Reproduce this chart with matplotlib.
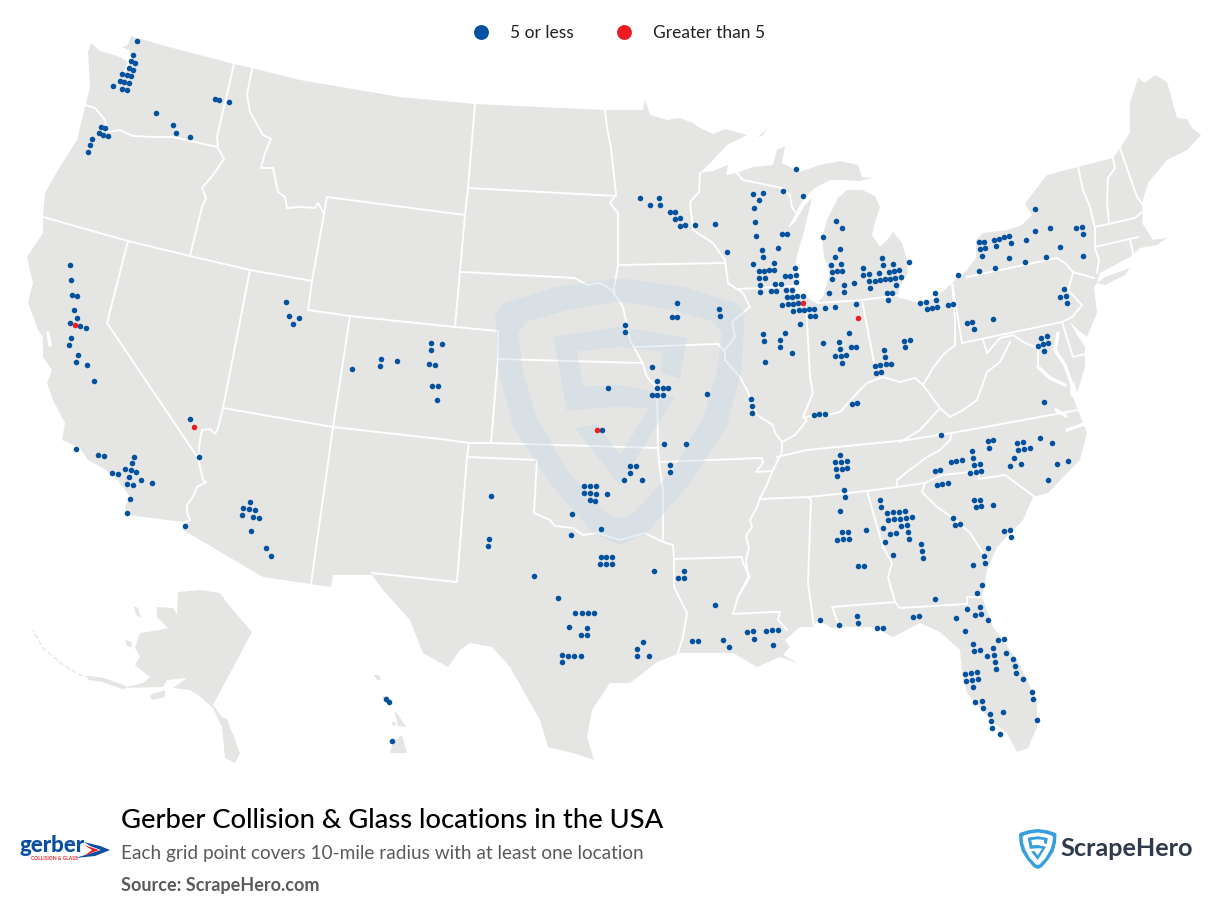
import matplotlib
matplotlib.use('Agg')
import matplotlib.pyplot as plt
import numpy as np
from matplotlib.patches import Polygon, PathPatch
from matplotlib.path import Path

title = 'Gerber Collision & Glass locations in the USA'
subtitle = 'Each grid point covers 10-mile radius with at least one location'
source = 'Source: ScrapeHero.com'
legend_labels = ['5 or less', 'Greater than 5']

west_pts = [(137,41),(133,55),(131,61),(135,63),(129,68),(133,70),(122,74),(127,75),(131,76),(120,81),(124,82),(129,83),
            (113,86),(122,89),(127,90),(215,99),(219,100),(229,102),(156,113),(173,125),(176,133),(190,137),(101,127),
            (105,128),(99,133),(103,135),(108,136),(92,139),(90,145),(88,152),(70,265),(71,280),(72,295),(77,296),
            (74,310),(77,318),(286,302),(289,316),(299,318),(293,324),(70,323),(80,326),(86,328),(71,338),(69,345),
            (78,355),(76,362),(87,365),(94,381),(190,419),(199,457),(76,449),(98,455),(104,456),(134,457),(132,463),
            (112,473),(118,474),(125,469),(131,470),(136,472),(129,477),(141,480),(127,484),(133,485),(152,483),
            (130,499),(127,513),(185,526),(250,502),(243,508),(249,509),(255,510),(242,515),(253,517),(259,518),
            (251,531),(266,548),(271,556),(352,369),(381,359),(380,366),(397,361),(431,343),(442,344),(431,350),
            (429,364),(435,365),(432,386),(438,386),(437,400),(386,699),(389,702),(392,741)]
plains_pts = [(677,303),(672,317),(677,317),(719,309),(720,316),(625,325),(625,332),(652,367),(657,381),(657,388),
              (663,388),(668,388),(652,395),(657,395),(663,395),(608,388),(707,394),(602,430),(664,444),(686,444),
              (630,466),(636,466),(630,473),(624,480),(642,480),(670,465),(670,472),(584,486),(590,486),(596,486),
              (584,493),(590,493),(596,494),(590,500),(595,501),(607,494),(572,514),(601,529),(571,535),(491,496),
              (489,539),(488,546),(601,557),(606,557),(612,557),(600,564),(606,564),(612,564),(654,571),(684,571),
              (678,578),(684,578),(534,576),(558,598),(575,613),(582,613),(588,613),(594,613),(569,627),(587,628),
              (581,635),(587,635),(562,655),(568,656),(574,656),(581,656),(562,662),(643,642),(637,649),(637,656),
              (649,656),(715,605),(692,641),(698,641),(723,640),(729,647),(747,632),(753,631),(754,639),(766,631),
              (772,630),(778,630),(773,645),(751,399),(752,406),(752,413)]
midwest_pts = [(796,169),(640,198),(659,198),(650,205),(660,205),(670,212),(675,212),(675,219),(680,218),(680,226),
               (685,225),(695,225),(715,224),(727,252),(753,194),(763,193),(783,191),(803,196),(759,200),(754,208),
               (755,222),(756,236),(782,234),(787,234),(762,250),(778,248),(763,257),(753,264),(774,263),(759,271),
               (764,271),(769,270),(774,270),(795,268),(759,278),(765,278),(785,276),(790,276),(796,275),(796,282),
               (760,285),(775,284),(781,284),(760,292),(771,291),(776,291),(786,290),(792,290),(787,297),(792,297),
               (797,296),(803,296),(782,305),(788,304),(793,304),(798,303),(793,311),(799,310),(804,310),(809,309),
               (814,309),(810,316),(815,316),(800,324),(825,308),(835,307),(856,304),(763,334),(764,341),(785,333),
               (780,340),(780,347),(792,353),(765,362),(849,333),(823,343),(839,342),(840,349),(851,347),(856,347),
               (835,356),(841,356),(846,355),(842,363),(884,350),(885,357),(886,364),(891,364),(875,366),(880,365),
               (876,373),(881,372),(904,341),(910,340),(905,347),(814,415),(819,414),(825,414),(852,404),(857,403)]
michigan_pts = [(836,221),(842,228),(823,237),(840,249),(835,257),(831,265),(841,264),(832,272),(837,271),(842,271),
                (832,279),(844,285),(854,283),(844,292),(829,293),(863,268),(863,275),(869,274),(879,273),(882,258),
                (883,265),(893,264),(889,272),(894,271),(899,270),(909,262),(869,281),(875,281),(880,280),(885,279),
                (890,279),(895,278),(901,277),(870,288),(896,285),(887,293),(892,293),(888,300)]
northeast_pts = [(920,303),(926,302),(927,309),(932,308),(937,307),(935,293),(936,300),(948,305),(953,304),(958,275),
                 (967,323),(972,322),(974,329),(993,319),(1064,289),(1060,297),(1066,296),(1067,303),(1041,338),
                 (1047,336),(1043,344),(1048,343),(1038,346),(1044,351),(1044,402),(1035,209),(979,242),(984,242),
                 (994,240),(999,239),(1004,237),(1009,236),(1011,243),(1026,240),(1035,231),(1050,228),(1076,228),
                 (1082,227),(1083,234),(980,249),(985,248),(996,246),(1060,247),(982,256),(1009,258),(1025,262),
                 (1046,257),(1083,256),(979,271),(995,268)]
southeast_pts = [(941,435),(988,441),(993,440),(989,448),(1017,443),(1023,442),(1018,450),(1024,449),(1030,448),
                 (1040,438),(1052,443),(972,451),(973,458),(1014,458),(962,460),(956,461),(951,462),(974,465),
                 (980,464),(1021,464),(1010,466),(1057,464),(1068,461),(935,471),(940,470),(970,473),(976,472),
                 (981,471),(1048,480),(937,485),(942,484),(948,483),(974,500),(980,500),(976,507),(981,506),(993,505),
                 (953,518),(955,525),(960,524),(1004,531),(1010,530),(1011,537),(988,548),(984,556),(985,563),(973,565),
                 (982,585),(977,593),(935,599),(840,455),(835,462),(841,462),(847,461),(836,469),(842,469),(847,468),
                 (837,476),(844,490),(845,497),(840,511),(842,532),(848,532),(837,540),(843,539),(849,539),(866,530),
                 (858,566),(864,566),(880,500),(881,507),(887,513),(893,512),(899,512),(905,511),(888,520),(894,519),
                 (900,519),(906,518),(912,517),(883,528),(901,526),(907,525),(890,534),(896,533),(908,532),(909,539),
                 (885,542),(921,544),(922,551),(923,558),(893,555),(820,620),(839,625),(857,616),(858,623),(877,628),
                 (883,628),(913,617),(919,616)]
florida_pts = [(967,609),(980,607),(975,615),(981,614),(956,618),(988,620),(965,631),(998,640),(1004,639),(973,644),
               (974,651),(980,650),(993,648),(987,656),(994,655),(1006,653),(995,662),(1013,659),(996,669),(1015,666),
               (1016,673),(1023,679),(965,674),(971,673),(977,672),(966,681),(972,680),(978,679),(973,687),(1032,692),
               (1033,699),(975,702),(982,701),(983,708),(1003,712),(990,714),(991,721),(992,728),(1037,720),(1000,734)]
red_pts = [(75,325),(194,427),(597,430),(803,303),(858,318)]

mainland = [(91,43),(100,51),(120,57),(128,62),(122,75),(127,70),(132,58),(129,50),(122,47),(128,45),(131,36),
            (165,46),(234,64),(252,68),(300,80),(400,97),(475,104),(605,110),(643,110),(645,99),(650,115),(667,120),
            (680,118),(693,123),(700,128),(713,134),(725,129),(747,135),(727,145),(713,160),(700,173),(713,171),
            (728,165),(726,175),(737,173),(753,167),(773,165),(777,150),(785,146),(782,163),(800,172),(820,165),
            (840,161),(858,165),(862,177),(872,178),(860,181),(845,180),(830,180),(815,188),(806,196),(800,205),
            (795,215),(788,228),(795,222),(805,205),(812,198),(808,215),(803,235),(797,255),(795,270),(794,285),
            (797,297),(806,297),(812,301),(817,303),(823,297),(827,283),(830,273),(824,257),(822,237),(827,220),
            (832,210),(838,198),(847,190),(862,190),(875,196),(880,207),(875,222),(872,235),(880,247),(887,240),
            (893,232),(902,243),(907,260),(908,273),(902,282),(899,290),(898,298),(905,299),(918,303),(935,298),
            (950,285),(967,270),(976,258),(976,240),(983,233),(1007,230),(1022,225),(1032,215),(1025,204),(1033,193),
            (1047,175),(1078,167),(1113,158),(1120,148),(1130,133),(1130,103),(1138,78),(1145,83),(1155,75),(1167,82),
            (1177,118),(1187,119),(1192,128),(1201,135),(1187,150),(1167,160),(1148,183),(1142,203),(1143,213),
            (1142,223),(1153,240),(1167,238),(1157,245),(1140,248),(1130,257),(1100,273),(1097,283),(1094,287),
            (1097,313),(1087,337),(1078,330),(1070,322),(1077,335),(1085,347),(1085,367),(1077,393),(1074,380),
            (1072,395),(1078,410),(1087,433),(1080,460),(1048,493),(1033,497),(1023,520),(997,547),(987,570),(982,597),
            (993,627),(1017,660),(1037,700),(1037,727),(1028,748),(1017,752),(1007,733),(990,720),(967,693),(962,673),
            (960,650),(940,632),(920,623),(893,637),(873,627),(840,627),(832,628),(818,620),(813,627),(800,627),
            (785,640),(790,647),(783,655),(798,663),(780,657),(757,667),(733,653),(703,653),(680,653),(657,662),
            (630,683),(610,683),(592,710),(587,737),(594,760),(573,753),(548,747),(540,720),(510,667),(492,647),
            (470,643),(460,650),(448,667),(423,653),(410,620),(383,590),(372,575),(333,575),(331,587),(310,584),
            (263,577),(183,530),(183,522),(128,515),(125,507),(130,497),(118,480),(103,468),(88,460),(80,448),(62,440),
            (65,423),(53,400),(47,383),(52,370),(43,357),(43,337),(38,330),(28,302),(33,283),(27,257),(43,233),(43,217),
            (45,193),(58,170),(77,140),(85,107),(90,87),(88,52)]
alaska = [(178,592),(200,590),(220,593),(227,603),(252,632),(213,705),(222,717),(227,719),(240,753),(235,763),(225,758),
          (222,727),(213,708),(198,695),(190,690),(173,688),(187,678),(167,680),(163,687),(123,688),(143,683),(150,677),
          (135,665),(140,657),(135,648),(140,633),(160,630),(168,628),(157,617),(157,607),(173,608),(177,615)]
islands = [[(150,695),(165,690),(165,697),(152,700)],[(125,640),(131,642),(132,647),(127,646)],
           [(134,606),(138,608),(141,618),(136,615)],[(393,743),(402,735),(407,753),(390,753)],
           [(394,710),(399,716),(406,727),(398,726),(396,718)],[(392,722),(396,722),(395,726),(392,725)],
           [(374,675),(379,675),(381,680),(377,680)],[(382,696),(388,696),(390,703),(385,703)],
           [(1097,283),(1105,277),(1130,268),(1125,275),(1105,285)],[(758,137),(768,128),(762,136)]]
aleutian_wide = [(123,687),(103,680),(90,678)]
aleutian_thin = [(90,678),(80,675),(63,665),(43,648),(33,630)]

borders = [
    [(234,64),(217,137),(218,148),(224,159),(213,175),(202,188),(206,198),(202,207),(190,256)],
    [(85,105),(95,108),(105,120),(107,132),(120,130),(133,136),(153,137),(173,137),(217,147)],
    [(43,217),(128,241),(190,256),(250,270),(312,281)],
    [(128,241),(107,323),(198,458),(200,440),(202,430),(210,429),(215,434),(218,428),(223,408)],
    [(250,270),(223,408),(333,427),(440,439),(470,443),(491,443),(658,448)],
    [(198,458),(203,480),(206,482),(197,487),(193,497),(187,505),(187,513),(190,520),(183,523)],
    [(350,316),(333,427),(311,584)],
    [(327,197),(312,281),(308,310),(350,316),(455,327),(498,331),(498,359),(491,443)],
    [(252,69),(247,95),(250,112),(263,135),(271,139),(265,153),(261,168),(273,168),(278,192),(285,197),(287,208),
     (300,207),(315,208),(318,203),(323,212)],
    [(327,197),(465,215),(455,327)],
    [(475,104),(468,188),(465,215)],
    [(468,188),(616,196)],
    [(462,272),(575,278),(587,285),(600,283),(615,292)],
    [(498,359),(642,363)],
    [(605,110),(607,128),(611,148),(615,185),(616,195),(610,203),(618,213),(618,265),(615,283),(613,292),(623,307),
     (630,340),(642,362),(647,377),(657,388),(658,447),(659,462),(663,490),(663,542)],
    [(618,265),(725,263)],
    [(700,173),(699,192),(690,202),(693,230),(713,243),(725,260),(728,283),(743,293),(750,307),(732,322),(735,337),
     (725,350),(725,360),(740,377),(747,390),(757,415),(773,425),(775,433),(782,442),(782,452),(772,472),(767,485),
     (760,498),(757,507),(750,520),(752,527),(746,536),(749,548),(746,560),(748,577),(738,597),(733,614),(770,612),
     (780,612),(778,620),(787,630)],
    [(633,347),(718,344),(725,352)],
    [(659,462),(762,458),(763,463),(756,472),(772,471)],
    [(674,559),(742,557),(743,563),(750,577),(738,597)],
    [(534,513),(550,520),(555,526),(573,528),(583,535),(597,533),(620,540),(645,533),(663,542),(673,545),(674,559),
     (674,587),(687,613),(683,637),(678,653)],
    [(469,443),(467,457),(537,460),(534,513)],
    [(467,457),(457,582),(372,573)],
    [(808,497),(811,500),(808,583),(814,627)],
    [(760,499),(808,497),(867,491),(897,487),(925,483),(942,475),(980,471),(978,479),(1005,475),(1035,497)],
    [(777,457),(807,450),(907,440),(952,433),(1078,410)],
    [(897,487),(897,480),(907,472),(927,457),(940,450),(950,440),(952,433)],
    [(925,483),(922,492),(937,507),(953,518),(970,533),(983,553),(987,563)],
    [(867,491),(883,547),(892,563),(888,577),(895,602),(900,608),(967,604),(967,597),(982,597)],
    [(895,602),(832,607),(838,623)],
    [(782,442),(795,435),(807,420),(803,417),(813,393),(810,377),(806,303)],
    [(803,417),(827,415),(840,412),(860,390),(867,383),(883,377),(900,382),(915,378),(923,385),(933,368),(943,355),
     (955,345),(955,320),(952,282)],
    [(962,343),(952,282)],
    [(967,277),(1057,258),(1065,263),(1073,272),(1094,278)],
    [(1073,273),(1068,290),(1082,305),(1072,317),(1062,322),(962,343)],
    [(1097,273),(1099,260),(1095,248),(1095,228),(1090,207),(1083,190),(1078,167)],
    [(1113,158),(1115,168),(1108,178),(1107,203),(1109,222)],
    [(1095,227),(1135,218),(1142,212)],
    [(1095,247),(1138,237)],
    [(1130,240),(1134,257)],
    [(1120,148),(1137,197),(1143,205)],
    [(1062,322),(1073,357),(1085,354)],
    [(983,340),(987,353),(1000,338),(1013,335),(1025,343),(1038,348),(1038,367)],
    [(1010,342),(1000,362),(987,372),(977,400),(963,410),(950,417),(940,408),(923,385)],
    [(940,408),(920,430),(900,442)],
    [(738,289),(795,286)],
    [(737,173),(743,180),(782,188),(790,195),(792,207),(795,212)],
    [(817,303),(862,300),(900,295)],
    [(862,300),(876,373)],
]
# bays that show as thick white strokes
bays = [[(1058,333),(1055,350),(1065,365),(1072,385),(1072,395)],[(1038,367),(1050,378),(1065,385)],
        [(1067,430),(1087,423)],[(48,333),(50,345)],[(1056,410),(1066,416)]]

# logo shield, also used for the big watermark
shield_out = [(165,130),(190,100),(350,50),(540,25),(730,50),(890,100),(915,130),(905,300),(860,470),(750,640),
              (620,790),(540,825),(460,790),(330,640),(220,470),(175,300)]
shield_in = [(235,190),(260,155),(400,115),(540,95),(680,115),(820,155),(845,190),(830,310),(790,440),(700,600),
             (580,730),(540,745),(500,730),(380,600),(290,440),(250,310)]
shield_s = [(340,200),(540,170),(742,205),(720,325),(665,310),(665,245),(540,230),(410,245),(430,350),(540,345),
            (705,380),(540,645),(405,475),(470,462),(540,555),(627,415),(540,410),(380,422)]


def shield_patches(x0, y0, scale, color, alpha, zorder):
    outer = np.array(shield_out, float) * scale + [x0, y0]
    # inner ring runs the other way so it stays a hole
    inner = np.array(shield_in[::-1], float) * scale + [x0, y0]
    verts, codes = [], []
    for pts in [outer, inner]:
        verts += list(pts) + [pts[0]]
        codes += [Path.MOVETO] + [Path.LINETO] * (len(pts) - 1) + [Path.CLOSEPOLY]
    ring_patch = PathPatch(Path(verts, codes), fc=color, ec='none', alpha=alpha, zorder=zorder)
    s_patch = Polygon(np.array(shield_s, float) * scale + [x0, y0], closed=True, fc=color, ec='none',
                      alpha=alpha, zorder=zorder)
    return ring_patch, s_patch


def draw_points(ax, pts, color):
    xs = [p[0] for p in pts]
    ys = [p[1] for p in pts]
    ax.scatter(xs, ys, s=16, color=color, linewidths=0, zorder=5)


plt.rcParams['font.family'] = ['Lato', 'DejaVu Sans']
fig = plt.figure(figsize=(12.24, 9.02), dpi=100)
ax = fig.add_axes([0, 0, 1, 1])
ax.set_xlim(0, 1224)
ax.set_ylim(902, 0)
ax.axis('off')

land_color = '#e5e5e4'
land = Polygon(mainland, closed=True, fc=land_color, ec='none', zorder=1)
ax.add_patch(land)
ax.add_patch(Polygon(alaska, closed=True, fc=land_color, ec='none', zorder=1))
for isl in islands:
    ax.add_patch(Polygon(isl, closed=True, fc=land_color, ec='none', zorder=1))
ax.plot(*zip(*aleutian_wide), color=land_color, lw=3, zorder=1)
ax.plot(*zip(*aleutian_thin), color=land_color, lw=0.9, ls=(0, (4, 2)), zorder=1)

for line in borders:
    ax.plot(*zip(*line), color='white', lw=1.35, solid_joinstyle='round', zorder=2)
for line in bays:
    ax.plot(*zip(*line), color='white', lw=2.5, solid_capstyle='round', zorder=2)

# watermark sits over the borders, only inside the land
for p in shield_patches(440, 270, 1 / 3, '#c3d9ea', 0.38, 3):
    ax.add_patch(p)
    p.set_clip_path(land)

for pts in [west_pts, plains_pts, midwest_pts, michigan_pts, northeast_pts, southeast_pts, florida_pts]:
    draw_points(ax, pts, '#03529f')
draw_points(ax, red_pts, '#ed1c24')

# legend
ax.scatter([481], [32], s=115, color='#03529f', linewidths=0, zorder=5)
ax.scatter([624], [32], s=115, color='#ed1c24', linewidths=0, zorder=5)
ax.text(510, 33, legend_labels[0], fontsize=12.5, color='#222222', va='center')
ax.text(653, 33, legend_labels[1], fontsize=12.5, color='#222222', va='center')

# footer
ax.text(121, 821, title, fontsize=19.7, color='black', va='center', fontweight='medium')
ax.text(121, 853, subtitle, fontsize=13.7, color='#5a5a5a', va='center')
ax.text(121, 885, source, fontsize=13, color='#5a5a5a', va='center', fontweight='bold')

# gerber logo
ax.text(19, 845, 'gerber', fontsize=16, color='#0a4ea2', va='center', fontweight='black')
ax.add_patch(Polygon([(84,842),(100,846),(110,850),(95,856),(75,858),(92,853),(101,850),(90,846)], closed=True,
                     fc='#0a4ea2', ec='none', zorder=3))
ax.add_patch(Polygon([(84,845),(99,850),(84,856),(92,850)], closed=True, fc='#e8262a', ec='none', zorder=4))
ax.text(31, 858, 'COLLISION & GLASS', fontsize=3.6, color='#e8262a', va='center', fontweight='bold')

# scrapehero logo
for p in shield_patches(1019 - 165 * 0.05, 829 - 25 * 0.05, 0.05, '#36a0dc', 1, 3):
    ax.add_patch(p)
ax.text(1060, 849, 'ScrapeHero', fontsize=18.2, color='#2f3b4c', va='center', fontweight='bold')

fig.savefig('out.png', dpi=100)
